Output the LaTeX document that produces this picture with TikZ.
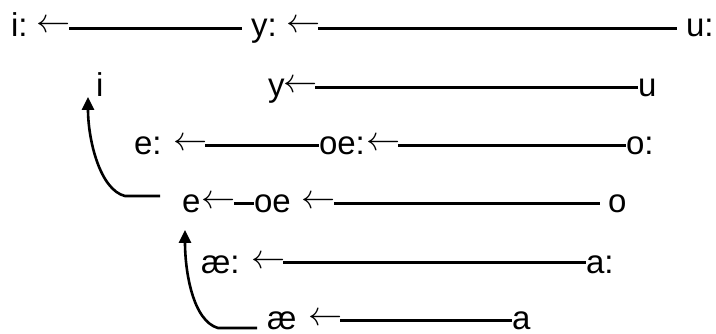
\documentclass[tikz,border=0pt]{standalone}
\usepackage{graphicx}
\usepackage{fontspec}
\setmainfont{Liberation Sans}
\usetikzlibrary{arrows.meta}
\newcommand{\larr}{\scalebox{1.37}{$\leftarrow$}}
\begin{document}
\begin{tikzpicture}[x=1pt,y=-1pt,
  lbl/.style={inner sep=0pt,outer sep=0pt,anchor=base west,font=\fontsize{33}{33}\selectfont},
  arr/.style={inner sep=0pt,outer sep=0pt,anchor=base west,font=\fontsize{24.88}{25}\selectfont},
  bar/.style={line width=3pt},
  curvearrow/.style={line width=2.6pt,-{Triangle[width=12pt,length=13pt]}}]
\useasboundingbox (0,0) rectangle (716,334);
% row coordinates (line heights)
\coordinate (r1) at (0,29);
\coordinate (r2) at (0,88);
\coordinate (r3) at (0,146);
\coordinate (r4) at (0,204);
\coordinate (r5) at (0,263);
\coordinate (r6) at (0,321);
% row 1
\node[lbl] (i1) at (11,37) {i:};
\node[arr] (a11) at (37,33) {\larr};
\node[lbl] (y1) at (251,37) {y:};
\node[arr] (a12) at (286,33) {\larr};
\node[lbl] (u1) at (686,37) {u:};
\draw[bar] ([xshift=-2pt]a11.east |- r1) -- ([xshift=-9pt]y1.west |- r1);
\draw[bar] ([xshift=-2pt]a12.east |- r1) -- ([xshift=-9pt]u1.west |- r1);
% row 2
\node[lbl] (i2) at (96,97) {i};
\node[lbl] (y2) at (268,97) {y};
\node[arr] (a21) at (283,93) {\larr};
\node[lbl] (u2) at (638,97) {u};
\draw[bar] ([xshift=-2pt]a21.east |- r2) -- (u2.west |- r2);
% row 3
\node[lbl] (e3) at (134,155) {e:};
\node[arr] (a31) at (173,151) {\larr};
\node[lbl] (oe3) at (319,155) {oe:};
\node[arr] (a32) at (366,151) {\larr};
\node[lbl] (o3) at (626,155) {o:};
\draw[bar] ([xshift=-2pt]a31.east |- r3) -- (oe3.west |- r3);
\draw[bar] ([xshift=-2pt]a32.east |- r3) -- (o3.west |- r3);
% row 4
\node[lbl] (e4) at (182,213) {e};
\node[arr] (a41) at (201,209) {\larr};
\node[lbl] (oe4) at (254,213) {oe};
\node[arr] (a42) at (301,209) {\larr};
\node[lbl] (o4) at (608,213) {o};
\draw[bar] ([xshift=-1pt]a41.east |- r4) -- (oe4.west |- r4);
\draw[bar] ([xshift=-1pt]a42.east |- r4) -- ([xshift=-8pt]o4.west |- r4);
% row 5
\node[lbl] (ae5) at (201,273) {æ:};
\node[arr] (a51) at (251,269) {\larr};
\node[lbl] (a5) at (586,273) {a:};
\draw[bar] ([xshift=-2pt]a51.east |- r5) -- (a5.west |- r5);
% row 6
\node[lbl] (ae6) at (267,330) {æ};
\node[arr] (a61) at (308,326) {\larr};
\node[lbl] (a6) at (512,330) {a};
\draw[bar] ([xshift=-2pt]a61.east |- r6) -- (a6.west |- r6);
% curved arrows
\draw[curvearrow] ([xshift=-22pt,yshift=17pt]e4.base west) -- ([xshift=-57pt,yshift=17pt]e4.base west)
  .. controls (100,190) and (88,140) .. ([xshift=-8pt]i2.base west);
\draw[curvearrow] ([xshift=-10pt,yshift=2pt]ae6.base west) -- ([xshift=-49pt,yshift=2pt]ae6.base west)
  .. controls (193,321) and (185,272) .. ([xshift=-16pt,yshift=43pt]ae5.base west);
\end{tikzpicture}
\end{document}
